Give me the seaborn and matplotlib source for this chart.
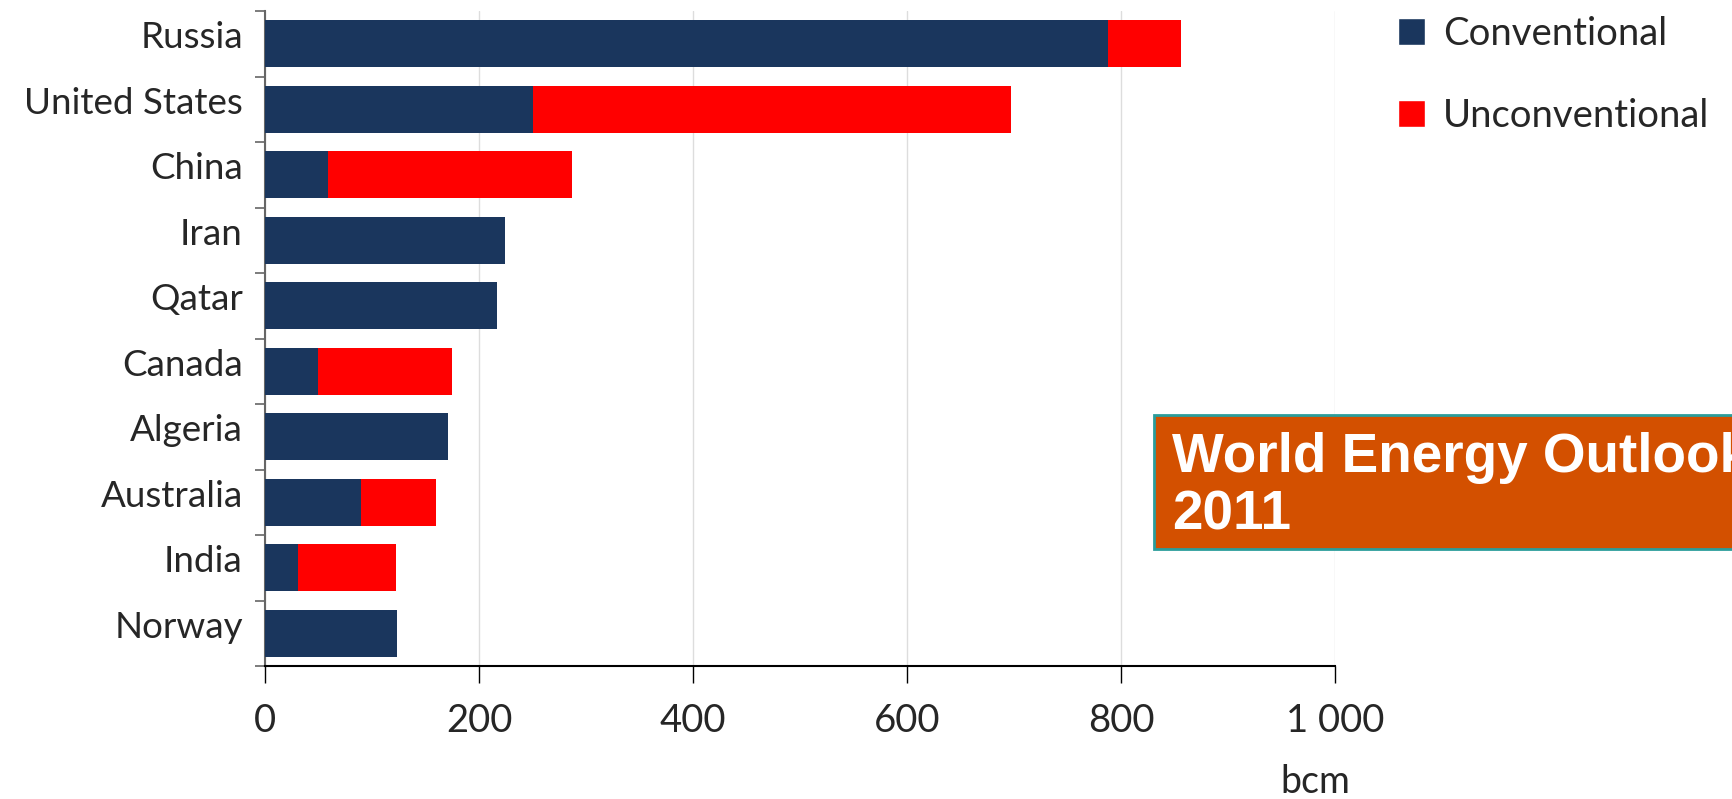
import matplotlib
matplotlib.use("Agg")
import matplotlib.pyplot as plt
from matplotlib.patches import Patch, Rectangle
from matplotlib.transforms import ScaledTranslation
import seaborn as sns
import pandas as pd

# --- data (bcm) ---
countries = ['Russia', 'United States', 'China', 'Iran', 'Qatar',
             'Canada', 'Algeria', 'Australia', 'India', 'Norway']
conventional = [788, 250, 59, 224, 217, 50, 171, 90, 31, 123]
unconventional = [68, 447, 228, 0, 0, 125, 0, 70, 91, 0]
x_ticks = [0, 200, 400, 600, 800, 1000]
x_tick_labels = ['0', '200', '400', '600', '800', '1 000']

navy = '#1A365D'
red = '#FF0000'

df = pd.DataFrame({'country': countries,
                   'conventional': conventional,
                   'unconventional': unconventional})
df['total'] = df['conventional'] + df['unconventional']

sns.set_style('white')
plt.rcParams['font.family'] = ['Lato', 'DejaVu Sans']

fig = plt.figure(figsize=(17.33, 7.99), dpi=100)
ax = fig.add_axes([265 / 1733, 1 - 666 / 799, (1335 - 265) / 1733, (666 - 11) / 799])

# stacked bars: total first (red), conventional on top (navy)
sns.barplot(data=df, x='total', y='country', color=red, width=0.72,
            saturation=1, ax=ax, orient='h', zorder=2, linewidth=0)
sns.barplot(data=df, x='conventional', y='country', color=navy, width=0.72,
            saturation=1, ax=ax, orient='h', zorder=3, linewidth=0)

ax.set_xlim(0, 1000)
ax.set_ylim(9.5, -0.5)
ax.set_xlabel('')
ax.set_ylabel('')

ax.set_xticks(x_ticks)
ax.set_xticklabels(x_tick_labels, fontsize=27.5)
ax.tick_params(axis='x', direction='out', length=12, width=1, color='black', pad=15,
               bottom=True)
ax.grid(axis='x', color='#DDDDDD', linewidth=1)
ax.set_axisbelow(True)

# y ticks sit between categories (Excel style)
ax.set_yticks(range(len(countries)))
ax.set_yticklabels(countries, fontsize=26.5)
ax.set_yticks([i - 0.5 for i in range(len(countries) + 1)], minor=True)
ax.tick_params(axis='y', which='major', length=0, pad=16)
ax.tick_params(axis='y', which='minor', direction='out', length=7, width=1.2,
               color='#666666', left=True)
shift = ScaledTranslation(0, 9 / 100, fig.dpi_scale_trans)
for lab in ax.get_yticklabels():
    lab.set_transform(lab.get_transform() + shift)

for side in ['top', 'right']:
    ax.spines[side].set_visible(False)
ax.spines['left'].set_color('#666666')
ax.spines['left'].set_linewidth(1.5)
ax.spines['bottom'].set_color('black')
ax.spines['bottom'].set_linewidth(1.5)

fig.text(1315 / 1733, 1 - 782 / 799, 'bcm', fontsize=27, ha='center', va='center')

# legend
handles = [Patch(facecolor=navy, label='Conventional'),
           Patch(facecolor=red, label='Unconventional')]
ax.legend(handles=handles, loc='upper left', bbox_to_anchor=(1398 / 1733, 1 - 16 / 799),
          bbox_transform=fig.transFigure, frameon=False, fontsize=27.5,
          handlelength=0.72, handleheight=0.72, handletextpad=0.45,
          labelspacing=1.2, borderpad=0, borderaxespad=0)

# title box
fig.patches.append(Rectangle((1154 / 1733, 1 - 549 / 799), 0.5, (549 - 415) / 799,
                             transform=fig.transFigure, facecolor='#D35000',
                             edgecolor='#2A9D9B', linewidth=2, zorder=5))
fig.text(1172 / 1733, 1 - 472 / 799, 'World Energy Outlook', color='white',
         fontsize=39.5, fontweight='bold', family=['Liberation Sans', 'DejaVu Sans'],
         va='baseline', zorder=6)
fig.text(1172 / 1733, 1 - 530 / 799, '2011', color='white',
         fontsize=39.5, fontweight='bold', family=['Liberation Sans', 'DejaVu Sans'],
         va='baseline', zorder=6)

fig.savefig('out.png', dpi=100)
